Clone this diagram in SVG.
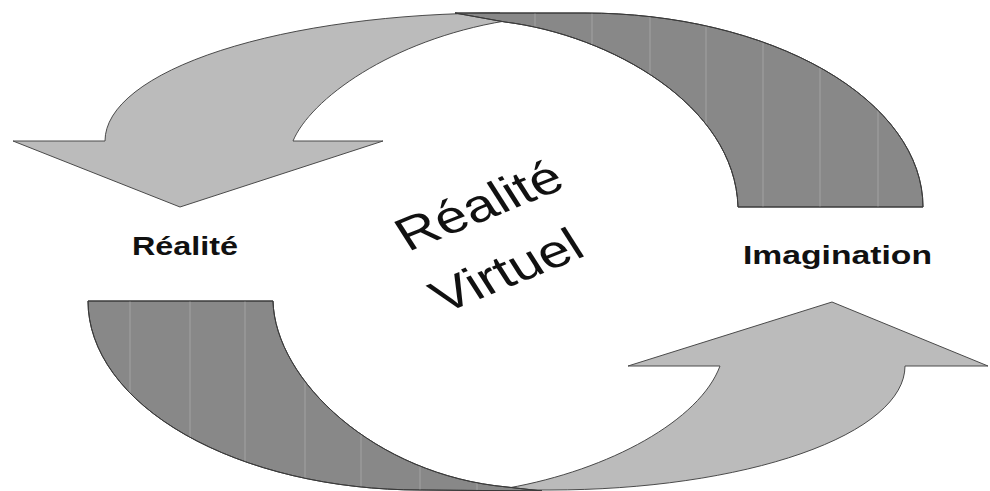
<svg xmlns="http://www.w3.org/2000/svg" width="990" height="491" viewBox="0 0 990 491">
<style>
.light{fill:#bbbbbb;stroke:#4a4a4a;stroke-width:1}
.dark{fill:#888888;stroke:#3a3a3a;stroke-width:1}
.stripe{stroke:#a2a2a2;stroke-width:1}
.lbl{font-family:"Liberation Sans",Arial,sans-serif;font-weight:bold;font-size:26px;fill:#111}
.big{font-family:"Liberation Sans",Arial,sans-serif;font-size:46px;fill:#111}
</style>
<defs>
<path id="topBand" d="M 455 13 L 585 13 A 338 194 0 0 1 923 207 L 738 207 C 735 105 610 35 505 22 Z"/>
<path id="botBand" d="M 88 301 L 273 301 C 275 380 375 475 507 487 L 542 491 L 420 490 A 332 189 0 0 1 88 301 Z"/>
<clipPath id="cTop"><use href="#topBand"/></clipPath>
<clipPath id="cBot"><use href="#botBand"/></clipPath>
</defs>
<rect width="990" height="491" fill="#ffffff"/>
<g id="connectors">
<path id="arrow-top" class="light" d="M 13 141 L 105 141 A 395 128 0 0 1 500 13 L 505 21 C 390 40 310 100 293 141 L 383 141 L 180 207 Z"/>
<g id="band-top">
<use href="#topBand" class="dark"/>
<g clip-path="url(#cTop)" class="stripe">
<line x1="535" y1="0" x2="535" y2="207"/>
<line x1="592" y1="0" x2="592" y2="207"/>
<line x1="650" y1="0" x2="650" y2="207"/>
<line x1="706" y1="0" x2="706" y2="207"/>
<line x1="763" y1="0" x2="763" y2="207"/>
<line x1="820" y1="0" x2="820" y2="207"/>
<line x1="878" y1="0" x2="878" y2="207"/>
</g>
<path d="M 455 13 L 585 13 A 338 194 0 0 1 923 207 L 738 207 C 735 105 610 35 505 22 Z" fill="none" stroke="#3a3a3a" stroke-width="1"/>
</g>
<path id="arrow-bottom" class="light" d="M 628 366 L 832 302 L 988 366 L 905 366 A 355 124 0 0 1 550 490 L 515 490 L 508 488 C 610 470 700 420 720 366 Z"/>
<g id="band-bottom">
<use href="#botBand" class="dark"/>
<g clip-path="url(#cBot)" class="stripe">
<line x1="130" y1="301" x2="130" y2="491"/>
<line x1="190" y1="301" x2="190" y2="491"/>
<line x1="245" y1="301" x2="245" y2="491"/>
<line x1="305" y1="301" x2="305" y2="491"/>
<line x1="361" y1="301" x2="361" y2="491"/>
<line x1="420" y1="301" x2="420" y2="491"/>
<line x1="477" y1="301" x2="477" y2="491"/>
</g>
<path d="M 88 301 L 273 301 C 275 380 375 475 507 487 L 542 491 L 420 490 A 332 189 0 0 1 88 301 Z" fill="none" stroke="#3a3a3a" stroke-width="1"/>
</g>
</g>
<g id="node-realite">
<text class="lbl" x="132" y="255" textLength="106" lengthAdjust="spacingAndGlyphs">Réalité</text>
</g>
<g id="node-imagination">
<text class="lbl" x="743" y="264" textLength="189" lengthAdjust="spacingAndGlyphs">Imagination</text>
</g>
<g id="node-realite-virtuel" transform="translate(408,252) scale(1.25,1) rotate(-27)">
<text class="big" x="0" y="0">Réalité</text>
<text class="big" x="-3" y="68">Virtuel</text>
</g>
</svg>
